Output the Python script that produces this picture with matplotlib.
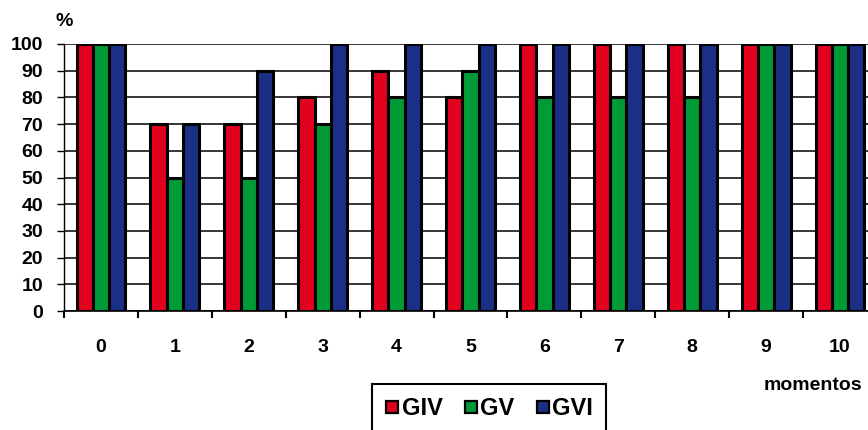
import numpy as np
import matplotlib.pyplot as plt
from matplotlib.lines import Line2D

plt.rcParams['font.family'] = ['Liberation Sans', 'DejaVu Sans']
plt.rcParams['font.weight'] = 'bold'

momentos = list(range(11))
giv = [100, 70, 70, 80, 90, 80, 100, 100, 100, 100, 100]
gv = [100, 50, 50, 70, 80, 90, 80, 80, 80, 100, 100]
gvi = [100, 70, 90, 100, 100, 100, 100, 100, 100, 100, 100]
series = [("GIV", giv, "#E2001F"), ("GV", gv, "#009A36"), ("GVI", gvi, "#1B2F86")]

fig = plt.figure(figsize=(8.68, 4.30), dpi=100)
# axis extends a bit past the right edge of the canvas
ax = fig.add_axes([64 / 868, 119 / 430, 813 / 868, 267 / 430])

x = np.array(momentos)
w = 0.22
for i, (name, vals, col) in enumerate(series):
    ax.bar(x + (i - 1) * w, vals, width=w, color=col, edgecolor="black",
           linewidth=2.2, zorder=3)

ax.set_xlim(-0.5, 10.5)
ax.set_ylim(0, 100)
ax.set_yticks(range(0, 101, 10))
ax.yaxis.grid(True, color="black", lw=1.1, zorder=0)
ax.set_axisbelow(True)

ax.set_xticks(x)
ax.set_xticklabels([str(m) for m in momentos], fontsize=14, fontweight="bold")
ax.set_xticks(np.arange(-0.5, 11, 1), minor=True)
ax.tick_params(axis="x", which="major", length=0, pad=20)
ax.tick_params(axis="x", which="minor", length=5, width=1.5, direction="out")
ax.tick_params(axis="y", length=5, width=1, pad=10, labelsize=14)
for lab in ax.get_yticklabels():
    lab.set_fontweight("bold")

for s in ("top", "right"):
    ax.spines[s].set_visible(False)
ax.spines["left"].set_linewidth(1)
ax.spines["bottom"].set_linewidth(1.2)

fig.text(55 / 868, 1 - 22 / 430, "%", fontsize=14, fontweight="bold", va="center")
fig.text(862 / 868, 1 - 385 / 430, "momentos", fontsize=14, fontweight="bold",
         ha="right", va="center")

handles = [Line2D([], [], marker="s", ls="none", markersize=8,
                  markerfacecolor=col, markeredgecolor="black", markeredgewidth=1.6)
           for _, _, col in series]
leg = fig.legend(handles, [s[0] for s in series], ncol=3, loc="upper left",
                 bbox_to_anchor=(372 / 868, 1 - 384 / 430), borderaxespad=0,
                 prop={"size": 17, "weight": "bold"},
                 handlelength=0.6, handletextpad=0.1, columnspacing=0.9,
                 borderpad=0.55, fancybox=False, framealpha=1)
leg.get_frame().set_edgecolor("black")
leg.get_frame().set_linewidth(1.5)

fig.savefig("out.png", dpi=100)
